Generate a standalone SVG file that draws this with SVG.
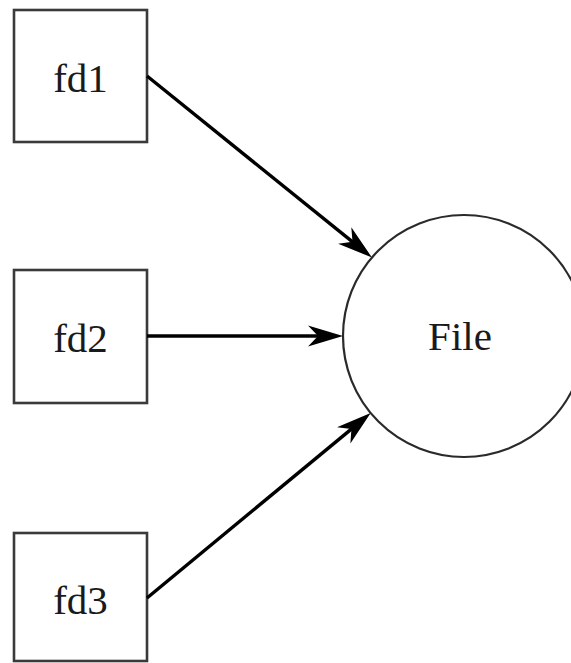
<svg xmlns="http://www.w3.org/2000/svg" width="571" height="663" viewBox="0 0 571 663">
<style>
.box{fill:#fff;stroke:#3a3a3a;stroke-width:2.6}
.circ{fill:#fff;stroke:#2a2a2a;stroke-width:2.2}
.lbl{font-family:"Liberation Serif","Times New Roman",serif;font-size:41px;fill:#1a1a1a;text-anchor:middle}
.edge{fill:none;stroke:#000;stroke-width:3.4}
</style>
<defs>
<marker id="arr" markerUnits="userSpaceOnUse" viewBox="0 -12 38 24" refX="24" refY="0" markerWidth="38" markerHeight="24" orient="auto">
<path d="M35,0 L0,-10.5 L10,0 L0,10.5 Z" fill="#000"/>
</marker>
</defs>
<rect width="571" height="663" fill="#fff"/>
<g id="node-file">
<circle class="circ" cx="464" cy="336" r="121"/>
<text class="lbl" x="460" y="350">File</text>
</g>
<g id="node-fd1">
<rect class="box" x="14" y="10" width="133" height="132"/>
<text class="lbl" x="80.5" y="92">fd1</text>
</g>
<g id="node-fd2">
<rect class="box" x="14" y="270" width="133" height="133"/>
<text class="lbl" x="80.5" y="352">fd2</text>
</g>
<g id="node-fd3">
<rect class="box" x="14" y="533" width="133" height="128"/>
<text class="lbl" x="80.5" y="614">fd3</text>
</g>
<g id="connectors">
<path class="edge" d="M147,76 L363.4,250.6" marker-end="url(#arr)"/>
<path class="edge" d="M147,336 L332,336" marker-end="url(#arr)"/>
<path class="edge" d="M147,598 L362.2,420.1" marker-end="url(#arr)"/>
</g>
</svg>
